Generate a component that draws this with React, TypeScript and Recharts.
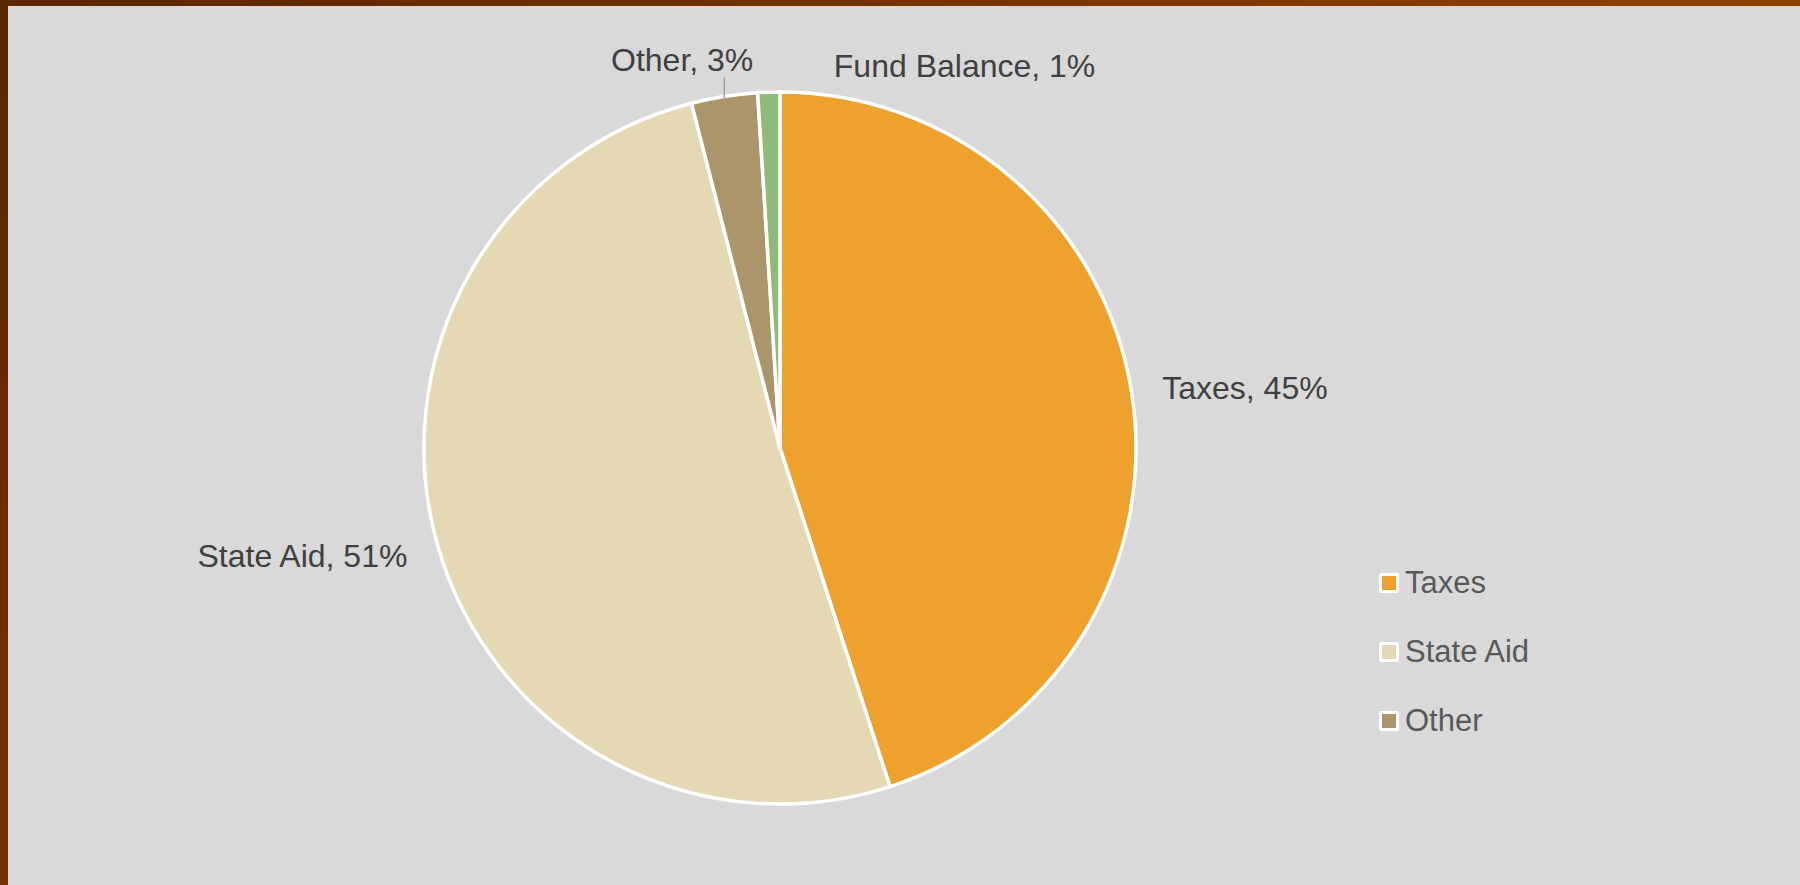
import { PieChart, Pie, Cell, Legend } from 'recharts';

const categories = ['Taxes', 'State Aid', 'Other', 'Fund Balance'];
const shares = [45, 51, 3, 1];
const colors = ['#EFA12D', '#E4D9B3', '#AB966B', '#8FBA77'];
// Excel only had room for the first three legend entries
const legendItems = ['Taxes', 'State Aid', 'Other'];

const data = categories.map((name, i) => ({ name, value: shares[i] }));

const FONT = '"Liberation Sans", Arial, sans-serif';
const RAD = Math.PI / 180;

// label placement tweaks per slice (relative to the point on the rim at mid angle)
const labelTweak: Record<string, { gap?: number; dx?: number; dy?: number; anchor?: 'start' | 'end'; leader?: boolean }> = {
  Taxes: { gap: 31, anchor: 'start' },
  'State Aid': { gap: 32, anchor: 'end' },
  Other: { dx: 29, dy: -37, anchor: 'end', leader: true },
  'Fund Balance': { dx: 65, dy: -26, anchor: 'start' },
};

function renderLabel(props: any) {
  const { cx, cy, midAngle, outerRadius, name, percent } = props;
  const t = labelTweak[name] || {};
  const r = outerRadius + (t.gap || 0);
  const px = cx + r * Math.cos(-midAngle * RAD);
  const py = cy + r * Math.sin(-midAngle * RAD);
  const x = px + (t.dx || 0);
  const y = py + (t.dy || 0);
  const text = `${name}, ${Math.round(percent * 100)}%`;
  return (
    <g key={name}>
      {t.leader && (
        <line x1={px} y1={py + 2} x2={px} y2={py - 19} stroke="#a0a0a0" strokeWidth={1.5} />
      )}
      <text x={x} y={y} dy="0.35em" textAnchor={t.anchor} fill="#404040" fontSize={32} fontFamily={FONT}>
        {text}
      </text>
    </g>
  );
}

function LegendBox() {
  return (
    <div style={{ fontFamily: FONT }}>
      {legendItems.map(name => {
        const i = categories.indexOf(name);
        return (
          <div key={name} style={{ display: 'flex', alignItems: 'center', height: 69 }}>
            <div style={{ width: 14, height: 14, background: colors[i], border: '3px solid #fff', borderRadius: 2 }} />
            <span style={{ marginLeft: 6, fontSize: 31, color: '#595959', lineHeight: '31px' }}>{name}</span>
          </div>
        );
      })}
    </div>
  );
}

export default function App() {
  return (
    <div
      style={{
        position: 'absolute',
        left: 0,
        top: 0,
        width: 1800,
        height: 885,
        background: 'linear-gradient(135deg, #5a2600 0%, #8a3e00 60%, #9c4c00 100%)',
        overflow: 'hidden',
      }}
    >
      <div style={{ position: 'absolute', left: 8, top: 6, width: 1792, height: 879, background: '#d9d9d9' }} />
      <div style={{ position: 'absolute', left: 0, top: 0 }}>
        <PieChart width={1800} height={885} margin={{ top: 0, right: 0, bottom: 0, left: 0 }}>
          <Pie
            data={data}
            dataKey="value"
            nameKey="name"
            cx={780}
            cy={448}
            outerRadius={356}
            startAngle={90}
            endAngle={-270}
            stroke="#ffffff"
            strokeWidth={3.5}
            label={renderLabel}
            labelLine={false}
            isAnimationActive={false}
          >
            {data.map((d, i) => (
              <Cell key={d.name} fill={colors[i]} />
            ))}
          </Pie>
          <Legend
            content={() => <LegendBox />}
            wrapperStyle={{ position: 'absolute', left: 1379, top: 548, width: 300 }}
          />
        </PieChart>
      </div>
    </div>
  );
}
